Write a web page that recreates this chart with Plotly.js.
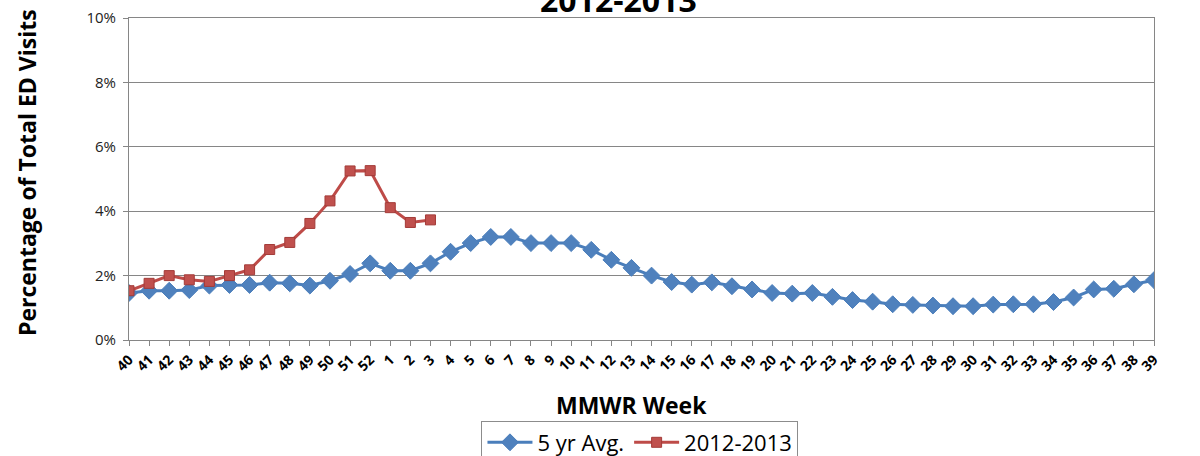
<!DOCTYPE html>
<html>
<head>
<meta charset="utf-8">
<script src="https://cdn.plot.ly/plotly-3.0.1.min.js"></script>
<style>html,body{margin:0;padding:0;background:#fff;}#chart{width:1200px;height:456px;}</style>
</head>
<body>
<div id="chart"></div>
<script>
const weeks = ['40','41','42','43','44','45','46','47','48','49','50','51','52',
  '1','2','3','4','5','6','7','8','9','10','11','12','13','14','15','16','17','18','19','20',
  '21','22','23','24','25','26','27','28','29','30','31','32','33','34','35','36','37','38','39'];
const avg5yr = [1.46,1.53,1.53,1.55,1.69,1.71,1.71,1.78,1.76,1.69,1.84,2.05,2.38,
  2.15,2.15,2.38,2.74,3.01,3.20,3.20,3.01,3.01,3.01,2.80,2.49,2.24,2.00,1.80,1.72,1.79,1.67,1.57,1.46,
  1.44,1.46,1.34,1.24,1.19,1.11,1.09,1.07,1.05,1.05,1.10,1.11,1.11,1.18,1.32,1.57,1.59,1.73,1.86];
const season1213 = [1.53,1.76,2.00,1.87,1.82,2.00,2.18,2.81,3.03,3.62,4.32,5.25,5.26,4.11,3.65,3.73];
const seasonWeeks = weeks.slice(0, season1213.length);
const yTickVals = [0,2,4,6,8,10];
const yTickText = ['0%','2%','4%','6%','8%','10%'];

const fontFam = '"Open Sans", "Liberation Sans", sans-serif';
const traces = [
  {x: weeks, y: avg5yr, name: '5 yr Avg.', type: 'scatter', mode: 'lines+markers',
   line: {color: '#4A7EBB', width: 3},
   marker: {symbol: 'diamond', size: 13, color: '#4F81BD', line: {color: '#4A7EBB', width: 1}}},
  {x: seasonWeeks, y: season1213, name: '2012-2013', type: 'scatter', mode: 'lines+markers',
   line: {color: '#BE4B48', width: 3},
   marker: {symbol: 'square', size: 10, color: '#C0504D', line: {color: '#A33B38', width: 1}}}
];
const layout = {
  width: 1200, height: 456,
  margin: {l: 129, r: 46, t: 18, b: 116, autoexpand: false},
  paper_bgcolor: '#fff', plot_bgcolor: '#fff',
  font: {family: fontFam, color: '#000'},
  showlegend: true,
  legend: {orientation: 'h', x: 0.4985, xanchor: 'center', y: -0.25, yanchor: 'top',
    bordercolor: '#8c8c8c', borderwidth: 1, font: {size: 22, family: fontFam}, itemwidth: 45,
    tracegroupgap: 0},
  xaxis: {type: 'category', categoryorder: 'array', categoryarray: weeks,
    range: [0, weeks.length - 1], tickangle: -45,
    tickfont: {size: 14, family: fontFam, weight: 'bold'},
    ticks: 'outside', ticklen: 5, tickcolor: '#868686', showgrid: false,
    showline: true, linecolor: '#868686', linewidth: 1, mirror: true, zeroline: false},
  yaxis: {range: [0, 10], tickvals: yTickVals, ticktext: yTickText,
    tickfont: {size: 15, family: fontFam, color: '#222'}, ticklabelstandoff: 4,
    ticks: 'outside', ticklen: 5, tickcolor: '#868686',
    showgrid: true, gridcolor: '#868686', gridwidth: 1,
    showline: true, linecolor: '#868686', linewidth: 1, mirror: true, zeroline: false},
  annotations: [
    {text: '<b>2012-2013</b>', xref: 'paper', yref: 'paper', x: 0.478, y: 0.985, xanchor: 'center', yanchor: 'bottom',
     showarrow: false, font: {size: 32, family: fontFam, color: '#000'}},
    {text: '<b>MMWR Week</b>', xref: 'paper', yref: 'paper', x: 0.49, y: -0.202, xanchor: 'center', yanchor: 'middle',
     showarrow: false, font: {size: 23, family: fontFam, color: '#000'}},
    {text: '<b>Percentage of Total ED Visits</b>', xref: 'paper', yref: 'paper', x: -0.1, y: 0.52, xanchor: 'center', yanchor: 'middle',
     textangle: -90, showarrow: false, font: {size: 23, family: fontFam, color: '#000'}}
  ]
};
Plotly.newPlot('chart', traces, layout, {displayModeBar: false, staticPlot: true});
</script>
</body>
</html>
